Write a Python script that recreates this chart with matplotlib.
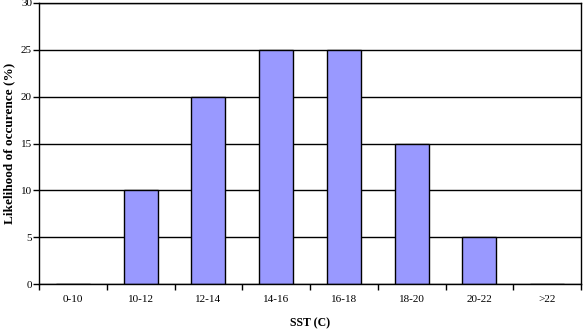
import numpy as np
import matplotlib
matplotlib.use('Agg')
import matplotlib.pyplot as plt

plt.rcParams['font.family'] = ['Liberation Serif', 'DejaVu Serif']

categories = ['0-10', '10-12', '12-14', '14-16', '16-18', '18-20', '20-22', '>22']
likelihood = [0, 10, 20, 25, 25, 15, 5, 0]

fig = plt.figure(figsize=(5.83, 3.36), dpi=100)
ax = fig.add_axes([39 / 583, 1 - 284 / 336, (581 - 39) / 583, (284 - 3) / 336])

x = np.arange(len(categories))
ax.bar(x, likelihood, width=0.5, color='#9999ff', edgecolor='black', linewidth=1.0, zorder=3)

ax.set_xlim(-0.5, len(categories) - 0.5)
ax.set_ylim(0, 30)
ax.set_yticks(np.arange(0, 31, 5))
ax.yaxis.grid(True, color='black', linewidth=1.0, zorder=0)
ax.set_axisbelow(True)

# category labels at centres, tick marks at boundaries
ax.set_xticks(x)
ax.set_xticklabels(categories)
ax.tick_params(axis='x', which='major', length=0, pad=8, labelsize=8)
ax.set_xticks(np.arange(-0.5, len(categories)), minor=True)
ax.tick_params(axis='x', which='minor', length=4, width=1, direction='out')
ax.tick_params(axis='y', length=4, width=1, direction='out', labelsize=8, pad=1)

for s in ax.spines.values():
    s.set_linewidth(1.0)
    s.set_color('black')
    s.set_zorder(5)

ax.set_xlabel('SST (C)', fontsize=8.5, fontweight='bold', labelpad=9.5)
ax.set_ylabel('Likelihood of occurence (%)', fontsize=9.5, fontweight='bold', labelpad=4)

fig.savefig('out.png', dpi=100)
